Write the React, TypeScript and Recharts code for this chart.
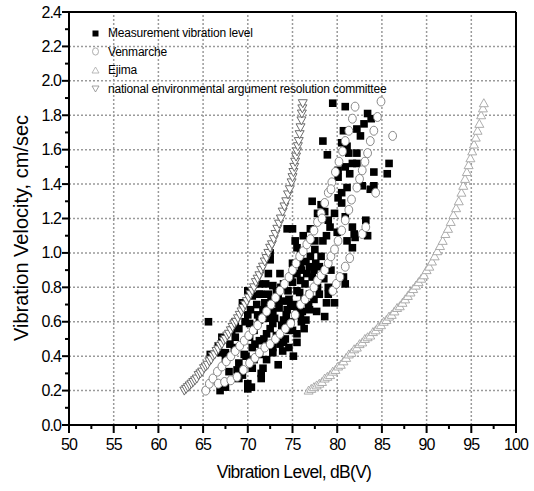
import { ScatterChart, Scatter, XAxis, YAxis, ReferenceLine, Legend, Label } from 'recharts'

const fontFamily = 'Arial, "Liberation Sans", sans-serif'

// axis ticks (major ones carry labels)
const xTicks = [50, 52.5, 55, 57.5, 60, 62.5, 65, 67.5, 70, 72.5, 75, 77.5, 80, 82.5, 85, 87.5, 90, 92.5, 95, 97.5, 100]
const xLabels = [50, 55, 60, 65, 70, 75, 80, 85, 90, 95, 100]
const yTicks = [0, 0.1, 0.2, 0.3, 0.4, 0.5, 0.6, 0.7, 0.8, 0.9, 1.0, 1.1, 1.2, 1.3, 1.4, 1.5, 1.6, 1.7, 1.8, 1.9, 2.0, 2.1, 2.2, 2.3, 2.4]
const yLabels = [0, 0.2, 0.4, 0.6, 0.8, 1.0, 1.2, 1.4, 1.6, 1.8, 2.0, 2.2, 2.4]

const seriesNames = [
  'Measurement vibration level',
  'Venmarche',
  'Ejima',
  'national environmental argument resolution committee',
]

// [vibration level dB(V), velocity cm/sec]
const measurement: [number, number][] = [
  [79.5, 1.87], [80.9, 1.85], [83.4, 1.81], [83.8, 1.78], [83.0, 1.75], [80.7, 1.71], [82.2, 1.72], [82.6, 1.68],
  [78.4, 1.65], [80.5, 1.64], [81.1, 1.62], [81.3, 1.58], [82.2, 1.58], [78.9, 1.57], [81.7, 1.52], [82.2, 1.52],
  [85.8, 1.52], [85.6, 1.46], [84.1, 1.47], [81.4, 1.46], [80.1, 1.44], [80.9, 1.5], [80.1, 1.48], [82.8, 1.39],
  [84.1, 1.39], [83.7, 1.37], [81.1, 1.38], [80.5, 1.35], [80.1, 1.32], [77.2, 1.3], [80.5, 1.29], [78.2, 1.28],
  [78.6, 1.24], [77.8, 1.23], [79.7, 1.23], [80.9, 1.21], [79.0, 1.19], [83.2, 1.19], [74.4, 1.14], [75.0, 1.14],
  [77.0, 1.14], [79.2, 1.15], [81.7, 1.15], [81.9, 1.11], [82.0, 1.09], [83.4, 1.1], [81.1, 1.07], [75.3, 1.07],
  [77.5, 1.07], [78.4, 1.07], [75.5, 1.03], [81.7, 1.03], [75.9, 1.0], [72.5, 1.0], [72.5, 0.96], [78.2, 0.98],
  [75.0, 0.94], [75.9, 0.94], [76.9, 0.92], [77.4, 0.9], [80.7, 0.86], [80.9, 0.82], [72.3, 0.88], [73.6, 0.88],
  [74.8, 0.86], [75.9, 0.84], [71.3, 0.82], [72.8, 0.81], [74.0, 0.82], [79.0, 0.8], [70.0, 0.78], [71.3, 0.76],
  [72.3, 0.76], [73.2, 0.78], [75.5, 0.78], [76.9, 0.76], [78.0, 0.76], [79.0, 0.76], [70.5, 0.75], [71.9, 0.71],
  [73.2, 0.71], [74.6, 0.73], [76.3, 0.73], [77.4, 0.73], [69.4, 0.71], [78.8, 0.71], [70.3, 0.67], [71.7, 0.67],
  [72.8, 0.66], [74.4, 0.67], [75.5, 0.67], [76.9, 0.67], [77.7, 0.66], [75.9, 0.64], [79.7, 0.71], [68.6, 0.6],
  [65.6, 0.6], [70.2, 0.59], [71.3, 0.61], [72.8, 0.59], [74.0, 0.61], [74.8, 0.6], [76.5, 0.61], [68.2, 0.55],
  [70.7, 0.55], [72.1, 0.53], [74.6, 0.55], [76.3, 0.56], [75.5, 0.53], [67.1, 0.51], [68.6, 0.51], [70.2, 0.51],
  [71.3, 0.49], [74.2, 0.5], [75.5, 0.48], [66.7, 0.46], [70.5, 0.45], [72.8, 0.45], [73.6, 0.47], [74.6, 0.45],
  [65.8, 0.41], [67.5, 0.42], [69.6, 0.41], [71.3, 0.41], [72.8, 0.42], [75.1, 0.4], [73.9, 0.43], [67.5, 0.38],
  [69.0, 0.36], [70.7, 0.38], [73.4, 0.35], [71.7, 0.33], [67.9, 0.31], [71.5, 0.3], [69.0, 0.27], [71.5, 0.27],
  [67.5, 0.22], [70.0, 0.24], [66.9, 0.2], [70.0, 0.21], [70.4, 0.22], [69.4, 0.29], [78.6, 0.63],
  [73.0, 0.62], [73.5, 0.68], [74.0, 0.72], [74.5, 0.78], [75.0, 0.83], [75.5, 0.88], [76.0, 0.9], [76.5, 0.95],
  [77.0, 0.98], [77.5, 1.02], [73.8, 0.58], [74.3, 0.64], [75.2, 0.7], [75.8, 0.77], [76.4, 0.82], [77.2, 0.86],
  [78.0, 0.92], [72.5, 0.56], [71.8, 0.5], [70.8, 0.47], [69.8, 0.4], [68.8, 0.32], [72.2, 0.62], [73.2, 0.52],
  [74.0, 0.48], [75.0, 0.55], [76.0, 0.6], [76.8, 0.7], [77.8, 0.8], [78.5, 0.85], [79.3, 0.9], [71.0, 0.7],
  [70.0, 0.64], [69.0, 0.56], [68.0, 0.47], [67.0, 0.42], [71.5, 0.76], [72.0, 0.82], [76.2, 1.1], [78.8, 1.1],
  [80.0, 1.12], [76.6, 0.88], [77.6, 0.94], [73.4, 0.75], [74.8, 0.69], [76.1, 0.66], [72.6, 0.72], [69.7, 0.6],
  [71.1, 0.64], [73.7, 0.8], [70.5, 0.33], [72.1, 0.38], [68.5, 0.45],
]

const venmarche: [number, number][] = [
  // upper chain
  [65.3, 0.2], [65.7, 0.24], [66.1, 0.27], [66.6, 0.31], [67.1, 0.34], [67.6, 0.37], [68.1, 0.4], [68.6, 0.43],
  [69.1, 0.46], [69.6, 0.49], [70.1, 0.52], [70.6, 0.55], [71.1, 0.58], [71.6, 0.62], [72.1, 0.66], [72.6, 0.7],
  [73.1, 0.74], [73.6, 0.78], [74.1, 0.82], [74.6, 0.86], [75.0, 0.9], [75.4, 0.94], [75.8, 0.98], [76.2, 1.01],
  [76.6, 1.05], [77.0, 1.08], [77.4, 1.13], [77.8, 1.18], [78.2, 1.23], [78.6, 1.29], [79.0, 1.35], [79.4, 1.41],
  [79.8, 1.47], [80.2, 1.53], [80.6, 1.59], [80.9, 1.65], [81.3, 1.71], [81.7, 1.78], [82.0, 1.85],
  // middle chain
  [66.7, 0.24], [67.4, 0.25], [68.1, 0.26], [68.8, 0.28], [69.5, 0.32], [70.2, 0.36], [70.8, 0.39], [71.3, 0.42],
  [71.9, 0.45], [72.5, 0.47], [73.1, 0.5], [73.6, 0.53], [74.2, 0.56], [74.8, 0.59], [75.3, 0.64], [75.9, 0.7],
  [76.4, 0.73], [76.9, 0.76], [77.4, 0.8], [77.8, 0.84], [78.2, 0.87], [78.6, 0.9], [79.0, 0.94], [79.3, 0.98],
  [79.7, 1.02], [80.1, 1.07], [80.5, 1.13], [80.9, 1.19], [81.3, 1.25], [81.6, 1.31], [82.2, 1.38], [82.5, 1.43],
  [82.8, 1.48], [83.1, 1.53], [83.4, 1.58], [83.7, 1.65], [84.1, 1.71], [84.5, 1.79], [84.9, 1.88],
  // right chain and loose ones
  [79.5, 0.78], [79.9, 0.82], [80.3, 0.86], [80.9, 0.92], [81.4, 0.97], [82.8, 1.11], [83.2, 1.15], [84.3, 1.35],
  [86.2, 1.68], [78.3, 1.2], [79.3, 1.37],
]

const ejima: [number, number][] = [
  [76.8, 0.2], [77.1, 0.21], [77.4, 0.22], [77.7, 0.23], [78.0, 0.24], [78.3, 0.25], [78.6, 0.27], [78.9, 0.28],
  [79.2, 0.29], [79.5, 0.31], [79.8, 0.32], [80.1, 0.34], [80.4, 0.35], [80.7, 0.37], [81.0, 0.39], [81.3, 0.41],
  [81.6, 0.42], [81.9, 0.44], [82.2, 0.45], [82.5, 0.47], [82.8, 0.48], [83.1, 0.5], [83.4, 0.51], [83.7, 0.52],
  [84.0, 0.54], [84.3, 0.55], [84.6, 0.57], [84.9, 0.58], [85.2, 0.6], [85.5, 0.61], [85.8, 0.63], [86.1, 0.64],
  [86.4, 0.66], [86.7, 0.68], [87.0, 0.69], [87.3, 0.71], [87.6, 0.73], [87.9, 0.75], [88.2, 0.77], [88.5, 0.79],
  [88.8, 0.81], [89.1, 0.83], [89.4, 0.85], [89.7, 0.87], [90.0, 0.9], [90.3, 0.92], [90.6, 0.95], [90.9, 0.98],
  [91.2, 1.01], [91.5, 1.04], [91.8, 1.07], [92.1, 1.11], [92.4, 1.14], [92.7, 1.18], [93.0, 1.22], [93.3, 1.26],
  [93.6, 1.3], [93.9, 1.35], [94.1, 1.39], [94.3, 1.43], [94.5, 1.47], [94.7, 1.51], [94.9, 1.55], [95.1, 1.59],
  [95.3, 1.63], [95.5, 1.67], [95.7, 1.71], [95.9, 1.75], [96.1, 1.8], [96.3, 1.84], [96.4, 1.87],
]

const national: [number, number][] = [
  [62.9, 0.2], [63.1, 0.21], [63.3, 0.22], [63.5, 0.23], [63.7, 0.24], [63.9, 0.25], [64.1, 0.26], [64.3, 0.27],
  [64.5, 0.29], [64.7, 0.3], [64.9, 0.31], [65.1, 0.33], [65.3, 0.34], [65.5, 0.35], [65.7, 0.37], [65.9, 0.38],
  [66.1, 0.4], [66.3, 0.41], [66.5, 0.43], [66.7, 0.44], [66.9, 0.46], [67.1, 0.47], [67.3, 0.49], [67.5, 0.5],
  [67.7, 0.52], [67.9, 0.53], [68.1, 0.55], [68.3, 0.57], [68.5, 0.59], [68.7, 0.6], [68.9, 0.62], [69.1, 0.64],
  [69.3, 0.66], [69.5, 0.68], [69.7, 0.7], [69.9, 0.72], [70.1, 0.74], [70.3, 0.76], [70.5, 0.78], [70.7, 0.8],
  [70.9, 0.83], [71.1, 0.85], [71.3, 0.87], [71.5, 0.9], [71.7, 0.92], [71.9, 0.95], [72.1, 0.97], [72.3, 1.0],
  [72.5, 1.03], [72.7, 1.05], [72.9, 1.08], [73.1, 1.11], [73.3, 1.14], [73.5, 1.17], [73.7, 1.2], [73.9, 1.24],
  [74.1, 1.27], [74.3, 1.3], [74.5, 1.34], [74.7, 1.37], [74.9, 1.41], [75.0, 1.44], [75.1, 1.47], [75.2, 1.5],
  [75.3, 1.53], [75.4, 1.56], [75.5, 1.59], [75.6, 1.62], [75.7, 1.65], [75.8, 1.69], [75.9, 1.73], [76.0, 1.77],
  [76.05, 1.81], [76.1, 1.84], [76.15, 1.87],
]

const toPoints = (rows: [number, number][]) => rows.map(([x, y]) => ({ x, y }))

const colors = { square: '#000', circle: '#7a7a7a', up: '#a4a4a4', down: '#5e5e5e', grid: '#9a9a9a' }

const SquareMark = ({ cx, cy }: any) => <rect x={cx - 3.8} y={cy - 3.8} width={7.6} height={7.6} fill={colors.square} />
const CircleMark = ({ cx, cy }: any) => (
  <ellipse cx={cx} cy={cy} rx={3.9} ry={4.5} fill="#fff" stroke={colors.circle} strokeWidth={0.9} />
)
const UpMark = ({ cx, cy }: any) => (
  <path d={`M${cx},${cy - 4.5}L${cx + 4.5},${cy + 3.5}L${cx - 4.5},${cy + 3.5}Z`} fill="#fff" stroke={colors.up} strokeWidth={0.9} />
)
const DownMark = ({ cx, cy }: any) => (
  <path d={`M${cx - 4.5},${cy - 3.5}L${cx + 4.5},${cy - 3.5}L${cx},${cy + 4.5}Z`} fill="#fff" stroke={colors.down} strokeWidth={0.9} />
)

const legendMarks: Record<string, JSX.Element> = {
  [seriesNames[0]]: <rect x={8.5} y={3.5} width={6} height={6} fill="#000" />,
  [seriesNames[1]]: <ellipse cx={11.5} cy={6.5} rx={3} ry={3.6} fill="#fff" stroke="#9a9a9a" strokeWidth={0.8} />,
  [seriesNames[2]]: <path d="M11.5,3L15,9L8,9Z" fill="#fff" stroke="#a8a8a8" strokeWidth={0.8} />,
  [seriesNames[3]]: <path d="M8,4L15,4L11.5,10Z" fill="#fff" stroke="#8a8a8a" strokeWidth={0.8} />,
}

function LegendBox() {
  return (
    <div style={{ fontFamily, fontSize: 12, letterSpacing: -0.2, color: '#000' }}>
      {seriesNames.map((name) => (
        <div key={name} style={{ display: 'flex', alignItems: 'center', height: 18.5, whiteSpace: 'nowrap' }}>
          <svg width={24} height={13}>{legendMarks[name]}</svg>
          <span>{name}</span>
        </div>
      ))}
    </div>
  )
}

function XTick({ x, y, payload }: any) {
  const major = xLabels.includes(payload.value)
  return (
    <g>
      <line x1={x} x2={x} y1={y} y2={y + (major ? 8 : 4)} stroke="#000" strokeWidth={2} />
      {major && (
        <text x={x} y={y + 25} textAnchor="middle" fontFamily={fontFamily} fontSize={16} letterSpacing={-0.9} fill="#000">
          {payload.value}
        </text>
      )}
    </g>
  )
}

function YTick({ x, y, payload }: any) {
  const major = yLabels.some((v) => Math.abs(v - payload.value) < 1e-6)
  return (
    <g>
      <line x1={x} x2={x - (major ? 7 : 4)} y1={y} y2={y} stroke="#000" strokeWidth={2} />
      {major && (
        <text x={x - 8} y={y + 5.5} textAnchor="end" fontFamily={fontFamily} fontSize={16} letterSpacing={-0.9} fill="#000">
          {payload.value.toFixed(1)}
        </text>
      )}
    </g>
  )
}

const XTitle = () => (
  <text x={294} y={478} textAnchor="middle" fontFamily={fontFamily} fontSize={17.5} letterSpacing={-0.7} fill="#000">
    Vibration Level, dB(V)
  </text>
)

const YTitle = () => (
  <text x={28} y={228} transform="rotate(-90, 28, 228)" textAnchor="middle" fontFamily={fontFamily} fontSize={20} fill="#000">
    Vibration Velocity, cm/sec
  </text>
)

export default function App() {
  return (
    <div style={{ position: 'absolute', left: 0, top: 0, width: 534, height: 491, background: '#fff' }}>
      <ScatterChart width={534} height={491} margin={{ top: 12, right: 18, bottom: 0, left: 0 }}>
        <XAxis
          type="number"
          dataKey="x"
          domain={[50, 100]}
          ticks={xTicks}
          interval={0}
          height={66}
          tickLine={false}
          tickSize={0}
          tickMargin={0}
          axisLine={{ stroke: '#000', strokeWidth: 2 }}
          tick={<XTick />}
        >
          <Label content={<XTitle />} />
        </XAxis>
        <YAxis
          type="number"
          dataKey="y"
          domain={[0, 2.4]}
          ticks={yTicks}
          interval={0}
          width={69}
          tickLine={false}
          tickSize={0}
          tickMargin={0}
          axisLine={{ stroke: '#000', strokeWidth: 2 }}
          tick={<YTick />}
        >
          <Label content={<YTitle />} />
        </YAxis>
        {/* dotted grid at the labelled ticks */}
        <ReferenceLine x={xLabels[1]} stroke={colors.grid} strokeWidth={1.5} strokeDasharray="2 2" />
        <ReferenceLine x={xLabels[2]} stroke={colors.grid} strokeWidth={1.5} strokeDasharray="2 2" />
        <ReferenceLine x={xLabels[3]} stroke={colors.grid} strokeWidth={1.5} strokeDasharray="2 2" />
        <ReferenceLine x={xLabels[4]} stroke={colors.grid} strokeWidth={1.5} strokeDasharray="2 2" />
        <ReferenceLine x={xLabels[5]} stroke={colors.grid} strokeWidth={1.5} strokeDasharray="2 2" />
        <ReferenceLine x={xLabels[6]} stroke={colors.grid} strokeWidth={1.5} strokeDasharray="2 2" />
        <ReferenceLine x={xLabels[7]} stroke={colors.grid} strokeWidth={1.5} strokeDasharray="2 2" />
        <ReferenceLine x={xLabels[8]} stroke={colors.grid} strokeWidth={1.5} strokeDasharray="2 2" />
        <ReferenceLine x={xLabels[9]} stroke={colors.grid} strokeWidth={1.5} strokeDasharray="2 2" />
        <ReferenceLine y={yLabels[1]} stroke={colors.grid} strokeWidth={1.5} strokeDasharray="2 2" />
        <ReferenceLine y={yLabels[2]} stroke={colors.grid} strokeWidth={1.5} strokeDasharray="2 2" />
        <ReferenceLine y={yLabels[3]} stroke={colors.grid} strokeWidth={1.5} strokeDasharray="2 2" />
        <ReferenceLine y={yLabels[4]} stroke={colors.grid} strokeWidth={1.5} strokeDasharray="2 2" />
        <ReferenceLine y={yLabels[5]} stroke={colors.grid} strokeWidth={1.5} strokeDasharray="2 2" />
        <ReferenceLine y={yLabels[6]} stroke={colors.grid} strokeWidth={1.5} strokeDasharray="2 2" />
        <ReferenceLine y={yLabels[7]} stroke={colors.grid} strokeWidth={1.5} strokeDasharray="2 2" />
        <ReferenceLine y={yLabels[8]} stroke={colors.grid} strokeWidth={1.5} strokeDasharray="2 2" />
        <ReferenceLine y={yLabels[9]} stroke={colors.grid} strokeWidth={1.5} strokeDasharray="2 2" />
        <ReferenceLine y={yLabels[10]} stroke={colors.grid} strokeWidth={1.5} strokeDasharray="2 2" />
        <ReferenceLine y={yLabels[11]} stroke={colors.grid} strokeWidth={1.5} strokeDasharray="2 2" />
        <ReferenceLine y={2.4} stroke="#000" strokeWidth={2} />
        <ReferenceLine x={100} stroke="#000" strokeWidth={2} />
        <Legend
          layout="vertical"
          align="center"
          verticalAlign="middle"
          content={<LegendBox />}
          wrapperStyle={{ left: 84, top: 24, width: 400 }}
        />
        <Scatter name={seriesNames[0]} data={toPoints(measurement)} fill="#000" shape={SquareMark} isAnimationActive={false} />
        <Scatter name={seriesNames[1]} data={toPoints(venmarche)} fill={colors.circle} shape={CircleMark} isAnimationActive={false} />
        <Scatter name={seriesNames[2]} data={toPoints(ejima)} fill={colors.up} shape={UpMark} isAnimationActive={false} />
        <Scatter name={seriesNames[3]} data={toPoints(national)} fill={colors.down} shape={DownMark} isAnimationActive={false} />
      </ScatterChart>
    </div>
  )
}
